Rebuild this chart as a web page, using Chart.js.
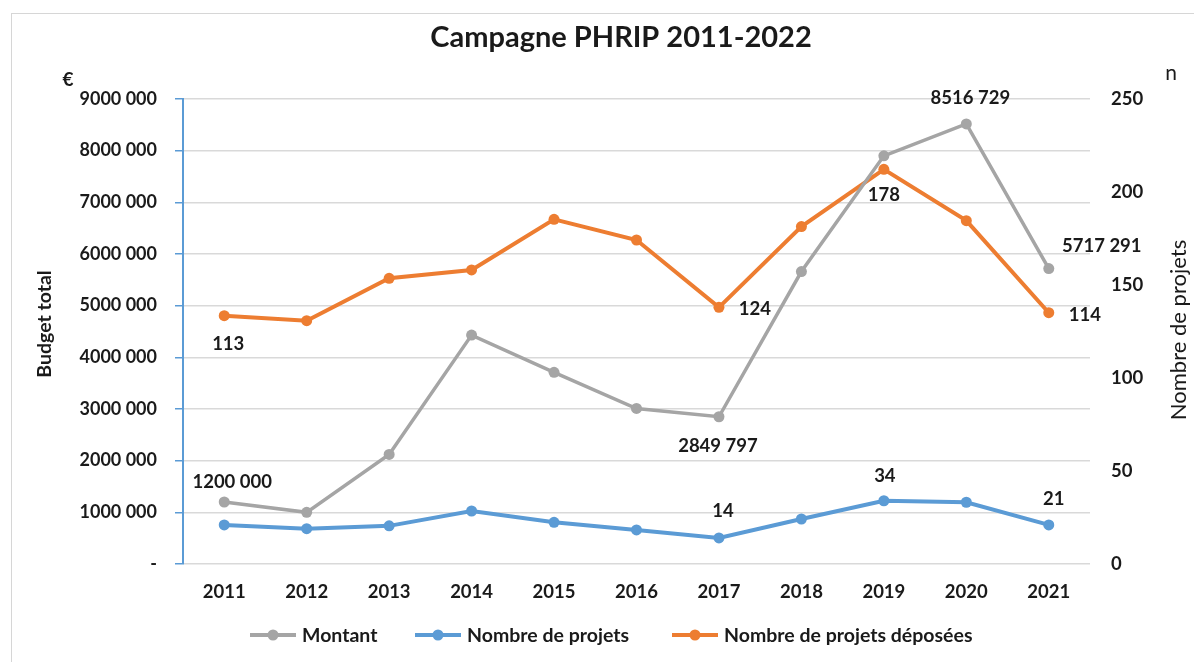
<!DOCTYPE html>
<html>
<head>
<meta charset="utf-8">
<script src="https://cdn.jsdelivr.net/npm/chart.js@4.4.1/dist/chart.umd.min.js"></script>
<style>
  html, body { margin: 0; padding: 0; background: #ffffff; }
  #wrap { position: relative; width: 1194px; height: 662px; }
  #frame { position: absolute; left: 11px; top: 13px; right: 0; bottom: 0; border-top: 1px solid #d6d6d6; border-left: 1px solid #d6d6d6; pointer-events: none; }
  canvas { position: absolute; left: 0; top: 0; }
</style>
</head>
<body>
<div id="wrap">
  <canvas id="c" width="1194" height="662"></canvas>
  <div id="frame"></div>
</div>
<script>
// ---------- DATA ----------
const years = ['2011','2012','2013','2014','2015','2016','2017','2018','2019','2020','2021'];
const montant = [1200000, 1000000, 2120000, 4430000, 3710000, 3010000, 2849797, 5660000, 7900000, 8516729, 5717291];
const nombreProjets = [21, 19, 20.5, 28.5, 22.4, 18.3, 14, 24.2, 34, 33.2, 21];
const nombreDeposees = [133.5, 130.8, 153.6, 158.1, 185.3, 174.2, 138, 181.4, 212.2, 184.6, 135.1];
const montantLabels = ['1200 000', null, null, null, null, null, '2849 797', null, null, '8516 729', '5717 291'];
const projetsLabels = [null, null, null, null, null, null, '14', null, '34', null, '21'];
const deposeesLabels = ['113', null, null, null, null, null, '124', null, '178', null, '114'];
const leftTicks = [0, 1000000, 2000000, 3000000, 4000000, 5000000, 6000000, 7000000, 8000000, 9000000];
const rightTicks = [0, 50, 100, 150, 200, 250];
const seriesNames = ['Montant', 'Nombre de projets', 'Nombre de projets déposées'];
const titleText = 'Campagne PHRIP 2011-2022';

// ---------- STYLE ----------
const FONT = 'Lato, "Open Sans", sans-serif';
const GREY = '#a5a5a5', BLUE = '#5b9bd5', ORANGE = '#ed7d31', TXT = '#1a1a1a';

function fmtEuro(v) {
  if (v === 0) return '-';
  const hi = Math.floor(v / 1000), lo = v % 1000;
  return hi + ' ' + String(lo).padStart(3, '0');
}

// label offsets (dx, dy) per dataset, index
const labelOffsets = [
  { 0: [8, -20], 6: [-1, 29], 9: [4, -26], 10: [53, -23] },
  { 6: [4, -27], 8: [1, -25], 10: [5, -26] },
  { 0: [4, 28], 6: [36, 2], 8: [0, 26], 10: [36, 2] }
];
const labelArrays = [montantLabels, projetsLabels, deposeesLabels];

const decoPlugin = {
  id: 'deco',
  afterDatasetsDraw(chart) {
    const ctx = chart.ctx;
    ctx.save();
    ctx.fillStyle = TXT;
    ctx.textAlign = 'center';
    ctx.textBaseline = 'middle';
    ctx.font = 'bold 18.5px ' + FONT;
    labelArrays.forEach((arr, di) => {
      const meta = chart.getDatasetMeta(di);
      arr.forEach((txt, i) => {
        if (!txt) return;
        const pt = meta.data[i];
        const off = labelOffsets[di][i] || [0, -20];
        ctx.fillText(txt, pt.x + off[0], pt.y + off[1]);
      });
    });
    ctx.restore();
  },
  afterDraw(chart) {
    const ctx = chart.ctx;
    ctx.save();
    ctx.fillStyle = TXT;
    // title
    ctx.font = 'bold 29px ' + FONT;
    ctx.textAlign = 'center';
    ctx.textBaseline = 'middle';
    ctx.fillText(titleText, 621, 38);
    // units
    ctx.font = 'bold 19px ' + FONT;
    ctx.fillText('€', 68, 80);
    ctx.font = '21px ' + FONT;
    ctx.fillText('n', 1171, 73);
    // axis titles
    ctx.font = 'bold 19.5px ' + FONT;
    ctx.save();
    ctx.translate(45, 324);
    ctx.rotate(-Math.PI / 2);
    ctx.fillText('Budget total', 0, 0);
    ctx.restore();
    ctx.font = '22px ' + FONT;
    ctx.save();
    ctx.translate(1179, 330);
    ctx.rotate(-Math.PI / 2);
    ctx.fillText('Nombre de projets', 0, 0);
    ctx.restore();
    // legend
    const items = [
      { x: 250, color: GREY, name: seriesNames[0] },
      { x: 415, color: BLUE, name: seriesNames[1] },
      { x: 672, color: ORANGE, name: seriesNames[2] }
    ];
    const ly = 635;
    ctx.textAlign = 'left';
    ctx.font = 'bold 19.5px ' + FONT;
    items.forEach(it => {
      ctx.strokeStyle = it.color;
      ctx.lineWidth = 4;
      ctx.beginPath();
      ctx.moveTo(it.x, ly);
      ctx.lineTo(it.x + 46, ly);
      ctx.stroke();
      ctx.fillStyle = it.color;
      ctx.beginPath();
      ctx.arc(it.x + 23, ly, 5.5, 0, Math.PI * 2);
      ctx.fill();
      ctx.fillStyle = TXT;
      ctx.fillText(it.name, it.x + 52, ly + 1);
    });
    ctx.restore();
  }
};

new Chart(document.getElementById('c'), {
  type: 'line',
  data: {
    labels: years,
    datasets: [
      { label: seriesNames[0], data: montant, yAxisID: 'y', borderColor: GREY, backgroundColor: GREY, borderWidth: 3.5, pointRadius: 5.5, pointBackgroundColor: GREY, pointBorderWidth: 0, tension: 0 },
      { label: seriesNames[1], data: nombreProjets, yAxisID: 'y1', borderColor: BLUE, backgroundColor: BLUE, borderWidth: 4, pointRadius: 5.5, pointBackgroundColor: BLUE, pointBorderWidth: 0, tension: 0 },
      { label: seriesNames[2], data: nombreDeposees, yAxisID: 'y1', borderColor: ORANGE, backgroundColor: ORANGE, borderWidth: 4, pointRadius: 5.5, pointBackgroundColor: ORANGE, pointBorderWidth: 0, tension: 0 }
    ]
  },
  options: {
    responsive: false,
    animation: false,
    devicePixelRatio: 1,
    layout: { padding: { left: 0, right: 0, top: 99, bottom: 56 } },
    plugins: { legend: { display: false }, title: { display: false }, tooltip: { enabled: false } },
    scales: {
      x: {
        offset: true,
        grid: { display: false, drawTicks: false },
        border: { display: false },
        ticks: { color: TXT, font: { family: FONT, size: 18.5, weight: 'bold' }, padding: 17, maxRotation: 0 },
        afterFit(s) { s.height = 42; }
      },
      y: {
        position: 'left',
        min: 0, max: 9000000,
        afterBuildTicks(s) { s.ticks = leftTicks.map(v => ({ value: v })); },
        grid: { color: '#d9d9d9', lineWidth: 1.5, tickColor: BLUE, tickLength: 8 },
        border: { display: true, color: BLUE, width: 2 },
        ticks: { color: TXT, font: { family: FONT, size: 18, weight: 'bold' }, padding: 18, callback: v => fmtEuro(v) },
        afterFit(s) { s.width = 183; }
      },
      y1: {
        position: 'right',
        min: 0, max: 250,
        afterBuildTicks(s) { s.ticks = rightTicks.map(v => ({ value: v })); },
        grid: { display: false, drawTicks: false },
        border: { display: false },
        ticks: { color: TXT, font: { family: FONT, size: 18.5, weight: 'bold' }, padding: 21 },
        afterFit(s) { s.width = 104; }
      }
    }
  },
  plugins: [decoPlugin]
});
</script>
</body>
</html>
